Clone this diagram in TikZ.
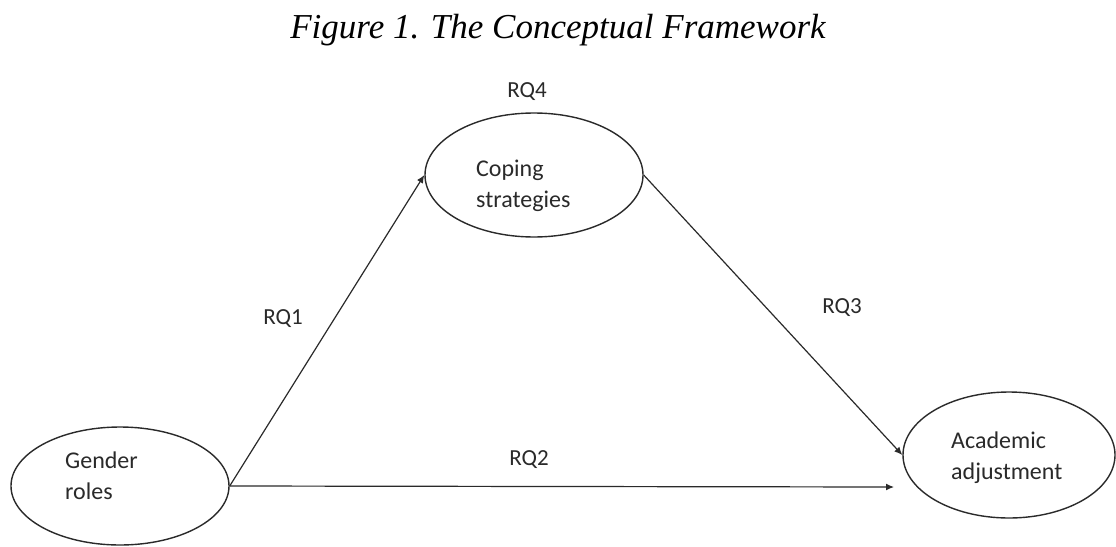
\documentclass[tikz,border=0pt]{standalone}
\usepackage{fontspec}
\setmainfont{Carlito}
\newfontfamily\titlefont{Liberation Serif}
\usetikzlibrary{shapes.geometric,arrows.meta}
\definecolor{ink}{HTML}{2A2A2A}
\begin{document}
\begin{tikzpicture}[x=1pt,y=-1pt,
  oval/.style={draw=ink,line width=1.4pt,ellipse,inner sep=0pt},
  lbl/.style={text=ink,font=\fontsize{24}{31}\selectfont,align=left,inner sep=0pt,anchor=west},
  rq/.style={text=ink,font=\fontsize{23}{27}\selectfont,inner sep=0pt},
  link/.style={draw=ink,line width=1.2pt,-{Latex[length=8pt,width=7pt]}}]
\useasboundingbox (0,0) rectangle (1116,546);
\fill[white] (0,0) rectangle (1116,546);
\node[font=\titlefont\itshape\fontsize{35}{40}\selectfont,inner sep=0pt] (title) at (558,30) {Figure 1. The Conceptual Framework};
\node[oval,minimum width=218pt,minimum height=118pt] (gender) at (120,486) {};
\node[oval,minimum width=218pt,minimum height=124pt] (coping) at (534,175) {};
\node[oval,minimum width=212pt,minimum height=126pt] (acad) at (1009,455) {};
\node[lbl] (tg) at (65,476) {Gender\\roles};
\node[lbl] (tc) at (476,186) {Coping\\strategies};
\node[lbl] (ta) at (951,457.5) {Academic\\adjustment};
\node[rq] (rq4) at (527,92) {RQ4};
\node[rq] (rq1) at (283,319) {RQ1};
\node[rq] (rq3) at (842,308) {RQ3};
\node[rq] (rq2) at (529,460) {RQ2};
\coordinate (end2) at (894,487);
\draw[link] (gender.east) -- (coping.west);
\draw[link] (coping.east) -- (acad.west);
\draw[link] (gender.east) -- (end2);
\end{tikzpicture}
\end{document}
